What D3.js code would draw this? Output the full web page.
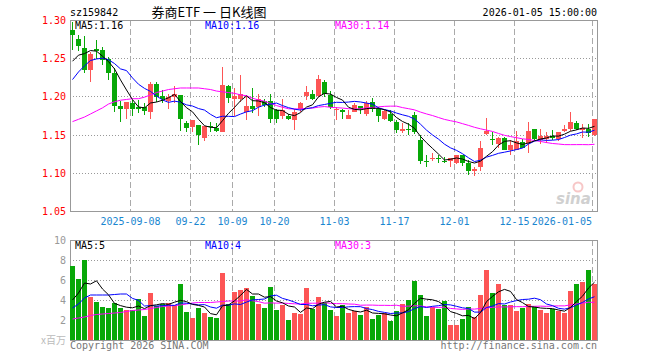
<!DOCTYPE html>
<html><head><meta charset="utf-8">
<script src="https://cdn.jsdelivr.net/npm/d3@7"></script>
<style>
html,body{margin:0;padding:0;background:#fff;}
svg text{font-family:"DejaVu Sans Mono","Liberation Mono",monospace;font-size:10px;}
</style></head>
<body><svg id="c" width="660" height="360"></svg>
<script>
const dates = [
"2025-08-25","2025-08-26","2025-08-27","2025-08-28","2025-08-29",
"2025-09-01","2025-09-02","2025-09-03","2025-09-04","2025-09-05","2025-09-08","2025-09-09","2025-09-10","2025-09-11","2025-09-12",
"2025-09-15","2025-09-16","2025-09-17","2025-09-18","2025-09-19","2025-09-22","2025-09-23","2025-09-24","2025-09-25","2025-09-26",
"2025-09-29","2025-09-30",
"2025-10-09","2025-10-10","2025-10-13","2025-10-14","2025-10-15","2025-10-16","2025-10-17","2025-10-20","2025-10-21","2025-10-22",
"2025-10-23","2025-10-24","2025-10-27","2025-10-28","2025-10-29","2025-10-30","2025-10-31",
"2025-11-03","2025-11-04","2025-11-05","2025-11-06","2025-11-07","2025-11-10","2025-11-11","2025-11-12","2025-11-13","2025-11-14",
"2025-11-17","2025-11-18","2025-11-19","2025-11-20","2025-11-21","2025-11-24","2025-11-25","2025-11-26","2025-11-27","2025-11-28",
"2025-12-01","2025-12-02","2025-12-03","2025-12-04","2025-12-05","2025-12-08","2025-12-09","2025-12-10","2025-12-11","2025-12-12",
"2025-12-15","2025-12-16","2025-12-17","2025-12-18","2025-12-19","2025-12-22","2025-12-23","2025-12-24","2025-12-25","2025-12-26",
"2025-12-29","2025-12-30","2025-12-31",
"2026-01-05"];

const open = [1.287,1.275,1.263,1.235,1.262,1.261,1.249,1.230,1.187,1.184,
1.192,1.186,1.186,1.179,1.216,1.200,1.194,1.199,1.202,1.165,
1.160,1.162,1.146,1.161,1.159,1.154,1.213,1.197,1.196,1.179,
1.187,1.186,1.194,1.194,1.182,1.175,1.174,1.169,1.183,1.201,
1.203,1.201,1.219,1.202,1.183,1.182,1.170,1.180,1.187,1.177,
1.193,1.183,1.170,1.177,1.166,1.155,1.157,1.176,1.143,1.1154,
1.119,1.120,1.116,1.115,1.113,1.123,1.113,1.103,1.107,1.151,
1.144,1.138,1.146,1.130,1.130,1.140,1.139,1.157,1.143,1.144,
1.148,1.144,1.155,1.157,1.165,1.156,1.157,1.150];
const high = [1.298,1.280,1.279,1.258,1.274,1.265,1.251,1.237,1.194,1.193,
1.195,1.195,1.191,1.219,1.219,1.208,1.203,1.214,1.202,1.168,
1.169,1.163,1.161,1.167,1.165,1.239,1.215,1.211,1.228,1.200,
1.211,1.203,1.197,1.203,1.184,1.197,1.177,1.184,1.193,1.213,
1.209,1.228,1.221,1.207,1.186,1.183,1.182,1.191,1.187,1.194,
1.198,1.186,1.184,1.182,1.169,1.165,1.165,1.179,1.150,1.123,
1.126,1.123,1.121,1.120,1.123,1.123,1.117,1.108,1.142,1.172,
1.154,1.147,1.147,1.143,1.155,1.144,1.166,1.157,1.157,1.154,
1.156,1.154,1.163,1.179,1.168,1.164,1.164,1.170];
const low = [1.261,1.259,1.231,1.219,1.249,1.241,1.221,1.179,1.167,1.170,
1.175,1.178,1.176,1.170,1.193,1.191,1.184,1.191,1.155,1.153,
1.154,1.136,1.141,1.154,1.153,1.153,1.192,1.174,1.193,1.169,
1.178,1.174,1.186,1.165,1.165,1.170,1.169,1.156,1.180,1.195,
1.195,1.199,1.199,1.184,1.169,1.171,1.170,1.180,1.177,1.175,
1.180,1.167,1.169,1.166,1.152,1.152,1.150,1.151,1.112,1.107,
1.115,1.113,1.113,1.108,1.112,1.109,1.097,1.096,1.102,1.150,
1.136,1.132,1.130,1.123,1.130,1.132,1.126,1.142,1.138,1.139,
1.143,1.141,1.154,1.155,1.156,1.145,1.147,1.148];
const close = [1.280,1.266,1.235,1.256,1.259,1.247,1.231,1.187,1.184,1.193,
1.184,1.183,1.181,1.216,1.199,1.196,1.199,1.203,1.170,1.158,
1.169,1.150,1.161,1.160,1.155,1.215,1.198,1.200,1.203,1.187,
1.184,1.196,1.189,1.171,1.170,1.182,1.171,1.180,1.191,1.206,
1.197,1.223,1.203,1.186,1.184,1.180,1.176,1.189,1.183,1.192,
1.183,1.174,1.181,1.168,1.156,1.157,1.156,1.154,1.115,1.1146,
1.120,1.119,1.115,1.120,1.123,1.113,1.103,1.105,1.132,1.155,
1.143,1.146,1.130,1.136,1.141,1.133,1.155,1.144,1.148,1.148,
1.146,1.154,1.157,1.167,1.157,1.158,1.152,1.170];
// volume, millions
const volume = [7.4,6.1,8.0,4.3,3.8,3.3,3.2,3.7,3.2,3.0,
3.0,4.1,2.4,4.7,3.4,3.6,3.7,3.5,5.6,2.8,
2.2,3.2,2.7,2.3,2.2,6.7,3.6,4.8,5.0,5.2,
4.4,3.6,3.2,5.3,3.0,3.5,2.0,2.7,2.6,5.2,
3.1,4.3,3.7,3.0,2.4,3.5,2.7,2.9,2.5,3.3,
2.1,2.5,2.7,1.9,2.9,3.6,4.0,5.9,4.5,2.4,
3.3,3.1,3.9,1.5,1.5,2.1,3.3,2.3,4.5,7.0,
4.7,5.6,3.5,3.5,2.9,3.2,3.6,3.3,3.0,2.7,
3.1,2.9,2.7,4.9,5.6,5.8,7.0,5.6];

// moving-average values for days whose window starts before the visible range
const ma5Head = [1.246,1.254,1.256,1.260];
const ma10Head = [1.222,1.232,1.240,1.247,1.249,1.250,1.248,1.243,1.236];
const ma30Head = [1.167,1.170,1.173,1.177,1.181,1.185,1.190,1.193,1.195,1.196,
1.197,1.197,1.199,1.202,1.205,1.207,1.209,1.210,1.211,1.211,
1.211,1.211,1.210,1.209,1.207,1.206,1.205,1.204,1.202];
const volMa5Head = [4.0,4.7,5.7,5.6];
const volMa10Head = [3.2,3.6,4.2,4.5,4.5,4.5,4.5,4.55,4.6];
const volMa30Head = [2.1,2.2,2.3,2.45,2.55,2.6,2.65,2.7,2.75,2.85,
2.95,3.0,3.05,3.15,3.25,3.35,3.4,3.45,3.5,3.6,
3.7,3.75,3.75,3.75,3.8,3.85,3.9,3.9,3.9];

const priceTicks = [1.05,1.10,1.15,1.20,1.25,1.30];
const volTicks = [2,4,6,8,10];
const tickDates = ["2025-09-08","2025-09-22","2025-10-09","2025-10-20","2025-11-03","2025-11-17","2025-12-01","2025-12-15","2026-01-05"];
const tickLabels = ["2025-09-08","09-22","10-09","10-20","11-03","11-17","12-01","12-15","2026-01-05"];

const RED = "#fd5555", GREEN = "#08a808";
const L = 70, R = 597, PT = 20, PB = 211, VT = 240, VB = 340;

function movingAvg(arr, n, head){
  return arr.map((d,i)=> i < n-1 ? head[i] : d3.mean(arr.slice(i-n+1, i+1)));
}
const ma5 = movingAvg(close,5,ma5Head), ma10 = movingAvg(close,10,ma10Head), ma30 = movingAvg(close,30,ma30Head);
const vma5 = movingAvg(volume,5,volMa5Head), vma10 = movingAvg(volume,10,volMa10Head), vma30 = movingAvg(volume,30,volMa30Head);

const svg = d3.select("#c");
const x = d3.scaleBand().domain(dates).range([L, L + 6*dates.length - 1]).paddingInner(1/6).paddingOuter(0);
const cx = d => Math.floor(x(d) + x.bandwidth()/2) + 0.5;
const y = d3.scaleLinear().domain([1.05,1.30]).range([PB, PT]);
const yv = d3.scaleLinear().domain([0,10]).range([VB, VT]);

// header
svg.append("text").attr("x",L).attr("y",16).attr("fill","#000").text("sz159842");
svg.append("text").attr("x",209).attr("y",16.5).attr("text-anchor","middle").attr("fill","#000")
  .style("font-family","'Noto Sans CJK SC',sans-serif").style("font-size","13px").text("券商ETF 一 日K线图");
svg.append("text").attr("x",R).attr("y",16).attr("text-anchor","end").attr("fill","#000").text("2026-01-05 15:00:00");

function panel(top, bottom, yScale, ticks, labelColor, fmt){
  const g = svg.append("g");
  g.selectAll("line.h").data(ticks.filter(t => yScale(t) > top + 1 && yScale(t) < bottom - 1)).join("line")
    .attr("x1",L).attr("x2",R).attr("y1",t=>Math.round(yScale(t))+0.5).attr("y2",t=>Math.round(yScale(t))+0.5)
    .attr("stroke","#999").attr("stroke-dasharray","1,2").attr("shape-rendering","crispEdges");
  g.selectAll("line.v").data(tickDates).join("line")
    .attr("x1",d=>x(d)+0.5).attr("x2",d=>x(d)+0.5).attr("y1",top).attr("y2",bottom)
    .attr("stroke","#aaa").attr("stroke-dasharray","6,3").attr("shape-rendering","crispEdges");
  g.append("rect").attr("x",L+0.5).attr("y",top+0.5).attr("width",R-L).attr("height",bottom-top)
    .attr("fill","none").attr("stroke","#999").attr("shape-rendering","crispEdges");
  g.selectAll("text").data(ticks).join("text")
    .attr("x",L-4).attr("y",t=>yScale(t)+4).attr("text-anchor","end").attr("fill",labelColor)
    .text(fmt);
}
panel(PT, PB, y, priceTicks, "#f00", d=>d.toFixed(2));
panel(VT, VB, yv, volTicks, "#999", d=>String(d));

// x labels
svg.selectAll("text.xl").data(tickDates).join("text").attr("class","xl")
  .attr("x",(d,i)=> i===tickDates.length-1 ? x(d) : x(d)+0.5)
  .attr("y",225).attr("text-anchor",(d,i)=> i===tickDates.length-1 ? "end" : "middle")
  .attr("fill","#1a86d0").text((d,i)=>tickLabels[i]);

// watermark
const wm = svg.append("g").attr("opacity",0.55);
wm.append("circle").attr("cx",578).attr("cy",187).attr("r",4.5).attr("fill","none").attr("stroke","#f29a9a").attr("stroke-width",2);
wm.append("text").attr("x",556).attr("y",204).attr("fill","#aaa").style("font-family","'DejaVu Sans',sans-serif")
  .style("font-size","15px").style("font-weight","bold").style("font-style","italic").text("sina");

// candles
const idx = d3.range(dates.length);
const cg = svg.append("g").attr("shape-rendering","crispEdges");
cg.selectAll("line.w").data(idx).join("line")
  .attr("x1",i=>cx(dates[i])).attr("x2",i=>cx(dates[i]))
  .attr("y1",i=>Math.round(y(high[i]))).attr("y2",i=>Math.round(y(low[i])))
  .attr("stroke",i=> close[i] >= open[i] ? RED : GREEN);
cg.selectAll("rect.b").data(idx).join("rect")
  .attr("x",i=>x(dates[i])).attr("width",x.bandwidth())
  .attr("y",i=>Math.round(y(Math.max(open[i],close[i]))))
  .attr("height",i=>Math.max(1, Math.round(y(Math.min(open[i],close[i]))) - Math.round(y(Math.max(open[i],close[i])))))
  .attr("fill",i=> close[i] >= open[i] ? RED : GREEN);

// volume bars
cg.selectAll("rect.v").data(idx).join("rect")
  .attr("x",i=>x(dates[i])).attr("width",x.bandwidth())
  .attr("y",i=>Math.round(yv(volume[i]))).attr("height",i=>VB - Math.round(yv(volume[i])))
  .attr("fill",i=> close[i] >= open[i] ? RED : GREEN);

// MA lines
function maLine(vals, scale, color){
  const line = d3.line().x((v,i)=>cx(dates[i])).y(v=>scale(v));
  svg.append("path").attr("d",line(vals)).attr("fill","none").attr("stroke",color).attr("stroke-width",1);
}
maLine(ma30, y, "#ff00ff"); maLine(ma10, y, "#0000ff"); maLine(ma5, y, "#000");
maLine(vma30, yv, "#ff00ff"); maLine(vma10, yv, "#0000ff"); maLine(vma5, yv, "#000");

// legends
const last = dates.length - 1;
const leg = [[75,"MA5:","#000"],[205,"MA10:","#0000ff"],[335,"MA30:","#ff00ff"]];
const pm = [ma5[last], ma10[last], ma30[last]], vm = [vma5[last], vma10[last], vma30[last]];
leg.forEach((l,k)=>{
  svg.append("text").attr("x",l[0]).attr("y",29).attr("fill",l[2]).text(l[1]+pm[k].toFixed(2));
  svg.append("text").attr("x",l[0]).attr("y",249).attr("fill",l[2]).text(l[1]+Math.floor(vm[k]));
});

// unit & footer
svg.append("text").attr("x",L-4).attr("y",344).attr("text-anchor","end").attr("fill","#bbb")
  .style("font-family","'Noto Sans CJK SC',sans-serif").style("font-size","10px").text("x百万");
svg.append("text").attr("x",L).attr("y",349).attr("fill","#777").text("Copyright 2026 SINA.COM");
svg.append("text").attr("x",R).attr("y",349).attr("text-anchor","end").attr("fill","#777").text("http://finance.sina.com.cn");
</script></body></html>
